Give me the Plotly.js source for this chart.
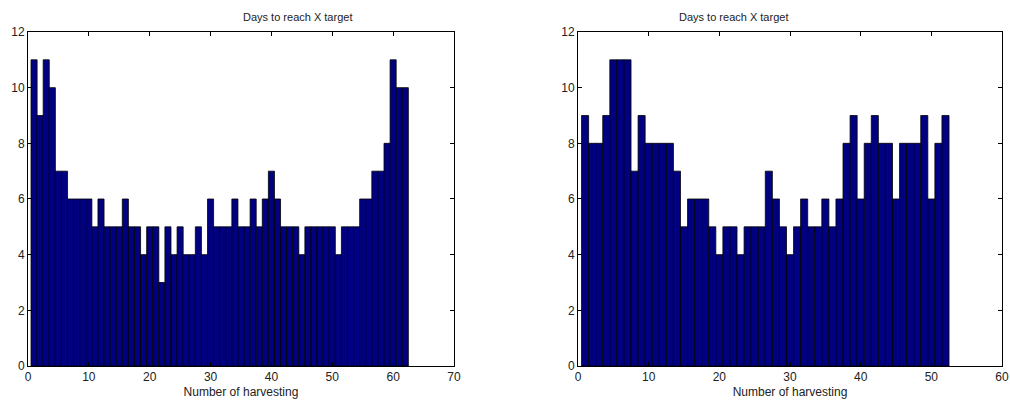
<!DOCTYPE html>
<html>
<head>
<meta charset="utf-8">
<script src="https://cdn.plot.ly/plotly-3.0.1.min.js"></script>
<style>html,body{margin:0;padding:0;background:#fff;}#chart{width:1010px;height:405px;}</style>
</head>
<body>
<div id="chart"></div>
<script>
// Left histogram: counts for harvest numbers 1..62
const leftCounts = [11,9,11,10,7,7,6,6,6,6, 5,6,5,5,5,6,5,5,4,5, 5,3,5,4,5,4,4,5,4,6,
  5,5,5,6,5,5,6,5,6,7, 6,5,5,5,4,5,5,5,5,5, 4,5,5,5,6,6,7,7,8,11, 10,10];
// Right histogram: counts for harvest numbers 1..52
const rightCounts = [9,8,8,9,11,11,11,7,9,8, 8,8,8,7,5,6,6,6,5,4, 5,5,4,5,5,5,7,6,5,4,
  5,6,5,5,6,5,6,8,9,6, 8,9,8,8,6,8,8,8,9,6, 8,9];
const leftX = leftCounts.map((_, i) => i + 1);
const rightX = rightCounts.map((_, i) => i + 1);
const titleText = "Days to reach X target";
const xTitleText = "Number of harvesting";
const yTicks = [0,2,4,6,8,10,12];

const barStyle = {color: '#000080', line: {color: '#000000', width: 0.8}};
const traces = [
  {type: 'bar', x: leftX, y: leftCounts, xaxis: 'x', yaxis: 'y', width: 1, marker: barStyle, hoverinfo: 'x+y'},
  {type: 'bar', x: rightX, y: rightCounts, xaxis: 'x2', yaxis: 'y2', width: 1, marker: barStyle, hoverinfo: 'x+y'}
];
const font = {family: 'Liberation Sans, Arial, sans-serif', size: 11, color: '#222'};
function xax(domain, max, anchor) {
  return {domain: domain, range: [0, max], anchor: anchor, tickmode: 'linear', tick0: 0, dtick: 10,
    ticks: 'inside', ticklen: 4, tickcolor: '#000', showline: true, linecolor: '#000', linewidth: 1,
    mirror: 'ticks', showgrid: false, zeroline: false, tickfont: {size: 12, color: '#222'},
    title: {text: xTitleText, font: {size: 12, color: '#222'}, standoff: 4}};
}
function yax(anchor) {
  return {domain: [0.0963, 0.921], range: [0, 12], anchor: anchor, tickvals: yTicks,
    ticks: 'inside', ticklen: 4, tickcolor: '#000', showline: true, linecolor: '#000', linewidth: 1,
    mirror: 'ticks', showgrid: false, zeroline: false, tickfont: {size: 12, color: '#222'}};
}
const layout = {
  width: 1010, height: 405, margin: {l: 0, r: 0, t: 0, b: 0},
  paper_bgcolor: '#fff', plot_bgcolor: '#fff', showlegend: false, bargap: 0,
  font: font,
  xaxis: xax([0.0277, 0.4495], 70, 'y'),
  yaxis: yax('x'),
  xaxis2: xax([0.5723, 0.9921], 60, 'y2'),
  yaxis2: yax('x2'),
  annotations: [
    {text: titleText, xref: 'paper', yref: 'paper', x: (0.0277+0.4495)/2, y: 1 - 17/405, yanchor: 'middle', showarrow: false, font: {size: 11, color: '#222'}},
    {text: titleText, xref: 'paper', yref: 'paper', x: (0.5723+0.9921)/2, y: 1 - 17/405, yanchor: 'middle', showarrow: false, font: {size: 11, color: '#222'}}
  ]
};
Plotly.newPlot('chart', traces, layout, {displayModeBar: false, staticPlot: true});
</script>
</body>
</html>
